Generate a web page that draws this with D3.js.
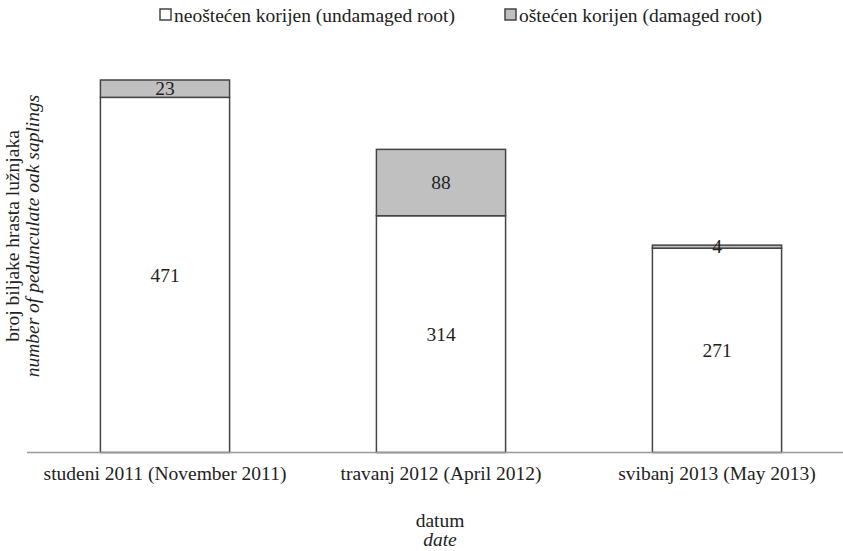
<!DOCTYPE html>
<html>
<head>
<meta charset="utf-8">
<script src="https://cdn.jsdelivr.net/npm/d3@7"></script>
<style>
  body { margin: 0; background: #fff; }
  text { font-family: "Liberation Serif", "Times New Roman", serif; fill: #222; font-size: 19.5px; }
</style>
</head>
<body>
<svg id="chart" width="843" height="551"></svg>
<script>
// podaci
var categories = ["studeni 2011 (November 2011)", "travanj 2012 (April 2012)", "svibanj 2013 (May 2013)"];
var undamaged = [471, 314, 271];
var damaged = [23, 88, 4];
var seriesNames = ["neoštećen korijen (undamaged root)", "oštećen korijen (damaged root)"];
var seriesColors = ["#ffffff", "#c0c0c0"];

var svg = d3.select("#chart");
var baseY = 452.5;

var x = d3.scaleBand().domain(categories).range([27, 855]).paddingInner(0.532).paddingOuter(0.266);
var y = d3.scaleLinear().domain([0, 494]).range([baseY, 80]);

// slaganje serija
var rows = categories.map(function (c, i) { return { cat: c, s0: undamaged[i], s1: damaged[i] }; });
var stack = d3.stack().keys(["s0", "s1"])(rows);

var groups = svg.selectAll("g.series").data(stack).enter().append("g").attr("class", "series");

groups.selectAll("rect").data(function (d) { return d; }).enter().append("rect")
    .attr("x", function (d) { return x(d.data.cat); })
    .attr("width", x.bandwidth())
    .attr("y", function (d) { return y(d[1]); })
    .attr("height", function (d) { return y(d[0]) - y(d[1]); })
    .attr("fill", function (d) { return seriesColors[d3.select(this.parentNode).datum().index]; })
    .attr("stroke", "#444")
    .attr("stroke-width", 1.5);

// oznake vrijednosti
groups.selectAll("text").data(function (d) { return d; }).enter().append("text")
    .attr("x", function (d) { return x(d.data.cat) + x.bandwidth() / 2; })
    .attr("y", function (d) { return (y(d[0]) + y(d[1])) / 2; })
    .attr("dy", "0.35em")
    .attr("text-anchor", "middle")
    .text(function (d) { return d[1] - d[0]; });

// os x
svg.append("line").attr("x1", 27).attr("x2", 843).attr("y1", baseY).attr("y2", baseY)
    .attr("stroke", "#999").attr("stroke-width", 1.5);

svg.selectAll("text.cat").data(categories).enter().append("text")
    .attr("class", "cat")
    .attr("x", function (d) { return x(d) + x.bandwidth() / 2; })
    .attr("y", 480)
    .attr("text-anchor", "middle")
    .text(function (d) { return d; });

// naslovi osi
svg.append("text").attr("x", 440).attr("y", 527).attr("text-anchor", "middle").text("datum");
svg.append("text").attr("x", 440).attr("y", 546).attr("text-anchor", "middle")
    .style("font-style", "italic").text("date");

var yl = svg.append("g").attr("transform", "translate(0,236) rotate(-90)");
yl.append("text").attr("x", 0).attr("y", 19).attr("text-anchor", "middle")
    .text("broj biljake hrasta lužnjaka");
yl.append("text").attr("x", 0).attr("y", 39).attr("text-anchor", "middle")
    .style("font-style", "italic").text("number of pedunculate oak saplings");

// legenda
var legendX = [160, 505];
var legend = svg.selectAll("g.legend").data(seriesNames).enter().append("g")
    .attr("class", "legend")
    .attr("transform", function (d, i) { return "translate(" + legendX[i] + ",9)"; });
legend.append("rect").attr("width", 11).attr("height", 11)
    .attr("fill", function (d, i) { return seriesColors[i]; })
    .attr("stroke", "#444").attr("stroke-width", 1.5);
legend.append("text").attr("x", 14).attr("y", 6).attr("dy", "0.35em")
    .text(function (d) { return d; });
</script>
</body>
</html>
